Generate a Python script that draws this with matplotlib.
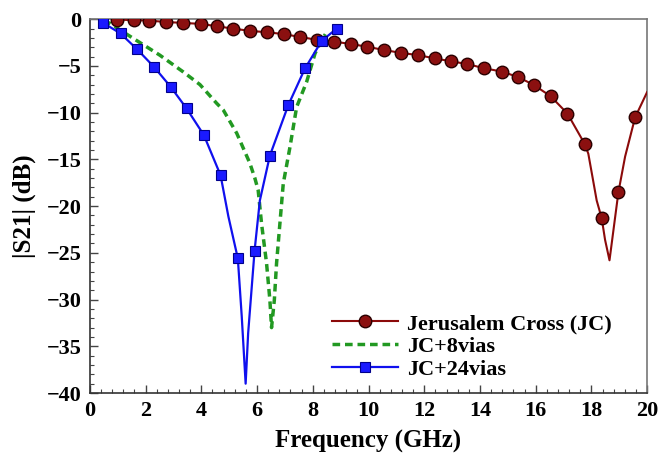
import numpy as np
import matplotlib.pyplot as plt
from matplotlib.ticker import MultipleLocator

# Jerusalem Cross (JC): markers every ~0.6 GHz, extra line points read along the notch
jc_freq = [0.96, 1.58, 2.13, 2.73, 3.35, 3.97, 4.55, 5.12, 5.75, 6.37, 6.97, 7.54,
           8.14, 8.76, 9.36, 9.96, 10.56, 11.16, 11.79, 12.39, 12.95, 13.55, 14.15,
           14.78, 15.38, 15.94, 16.54, 17.14, 17.77, 17.89, 18.19, 18.37, 18.49, 18.65,
           18.79, 18.97, 19.21, 19.57, 20.0]
jc_s21 = [-0.05, -0.1, -0.15, -0.3, -0.4, -0.5, -0.75, -1.0, -1.25, -1.4, -1.6, -1.9,
          -2.2, -2.4, -2.65, -2.95, -3.3, -3.6, -3.85, -4.2, -4.5, -4.8, -5.25,
          -5.6, -6.2, -7.05, -8.25, -10.1, -13.4, -14.4, -19.4, -21.3, -23.6, -25.8,
          -22.6, -18.5, -14.7, -10.5, -7.8]
jc_line_only = (17.89, 18.19, 18.49, 18.65, 18.79, 19.21, 20.0)
jc_marks = [i for i, f in enumerate(jc_freq) if f not in jc_line_only]

# JC + 8 vias (dashed, no markers)
v8_freq = [0.5, 0.72, 1.56, 2.51, 3.35, 3.95, 4.55, 4.79, 5.27, 5.74, 5.92, 6.04,
           6.16, 6.34, 6.46, 6.52, 6.62, 6.70, 6.82, 6.94, 7.18, 7.42, 7.78, 8.08,
           8.32, 8.45]
v8_s21 = [-0.1, -0.46, -2.06, -3.85, -5.64, -7.0, -9.0, -9.73, -12.2, -15.4, -17.0, -18.3,
          -21.85, -26.1, -30.05, -33.0, -30.05, -26.1, -21.85, -17.6, -13.7, -9.4, -6.7, -3.67,
          -2.25, -1.6]

# JC + 24 vias (squares), extra line points read along the notch
v24_freq = [0.48, 1.10, 1.70, 2.30, 2.90, 3.47, 4.09, 4.69, 4.97, 5.31, 5.45,
            5.59, 5.68, 5.91, 6.10, 6.46, 7.12, 7.72, 8.32, 8.86]
v24_s21 = [-0.4, -1.53, -3.24, -5.1, -7.24, -9.55, -12.4, -16.7, -21.1, -25.6, -31.8,
           -39.0, -33.6, -24.8, -19.4, -14.6, -9.2, -5.27, -2.32, -1.0]
v24_line_only = (4.97, 5.45, 5.59, 5.68, 6.10)
v24_marks = [i for i, f in enumerate(v24_freq) if f not in v24_line_only]

plt.rcParams['font.family'] = ['Liberation Serif', 'DejaVu Serif']
plt.rcParams['font.weight'] = 'bold'

fig = plt.figure(figsize=(6.61, 4.57), dpi=100)
ax = fig.add_axes([0.136, 0.140, 0.843, 0.818])

ax.plot(jc_freq, jc_s21, color='#8b0a0a', lw=1.5, marker='o', markevery=jc_marks,
        markersize=9, markerfacecolor='#8b1010', markeredgecolor='#2a0000', markeredgewidth=1.0,
        label='Jerusalem Cross (JC)', zorder=3)
ax.plot(v8_freq, v8_s21, color='#229922', lw=2.5, ls=(0, (2.2, 1.4)), label='JC+8vias', zorder=2)
ax.plot(v24_freq, v24_s21, color='#1010ee', lw=1.6, marker='s', markevery=v24_marks,
        markersize=7, markerfacecolor='#1a1aff', markeredgecolor='#00008b', markeredgewidth=0.8,
        label='JC+24vias', zorder=4)

ax.set_xlim(0, 20)
ax.set_ylim(-40, 0)
ax.xaxis.set_major_locator(MultipleLocator(2))
ax.xaxis.set_minor_locator(MultipleLocator(0.4))
ax.yaxis.set_major_locator(MultipleLocator(5))
ax.yaxis.set_minor_locator(MultipleLocator(1))
ax.tick_params(which='both', direction='in', top=False, right=False, labelsize=16, color='#444444')
ax.tick_params(which='major', length=6, width=1, pad=6)
ax.tick_params(which='minor', length=3, width=0.8)
for s in ax.spines.values():
    s.set_color('#777777')
    s.set_linewidth(1.2)
ax.spines['left'].set_color('#333333')
ax.spines['bottom'].set_color('#333333')

ax.set_xlabel('Frequency (GHz)', fontsize=18, fontweight='bold', labelpad=6)
ax.set_ylabel('|S21| (dB)', fontsize=18, fontweight='bold', labelpad=8)

ax.legend(loc='lower left', bbox_to_anchor=(0.41, 0.0), frameon=False, fontsize=16,
          handlelength=3.0, handletextpad=0.4, labelspacing=0.1, borderaxespad=0.2)

fig.savefig('out.png', dpi=100)
